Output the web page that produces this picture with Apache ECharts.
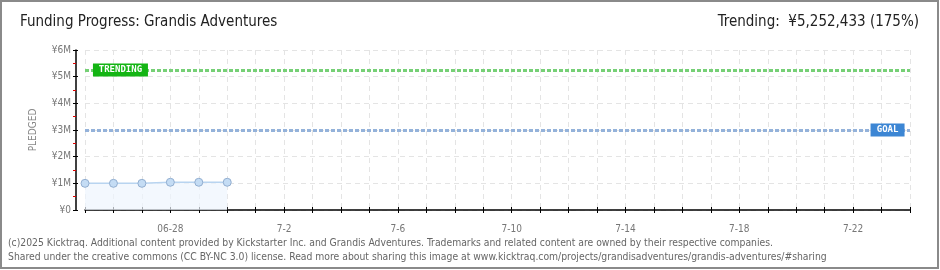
<!DOCTYPE html>
<html><head><meta charset="utf-8">
<script src="https://cdn.jsdelivr.net/npm/echarts@6/dist/echarts.min.js"></script>
<style>html,body{margin:0;padding:0;background:#fff}#c{width:940px;height:270px}</style>
</head><body><div id="c"></div>
<script>
const categories = ['06-25','06-26','06-27','06-28','06-29','06-30','7-1','7-2','7-3','7-4','7-5','7-6','7-7','7-8','7-9','7-10','7-11','7-12','7-13','7-14','7-15','7-16','7-17','7-18','7-19','7-20','7-21','7-22','7-23','7-24'];
const pledged = [1000000,1000000,1000000,1040000,1040000,1040000];
const goal = 3000000;
const trending = 5252433;
const yTicks = ['¥0','¥1M','¥2M','¥3M','¥4M','¥5M','¥6M'];
const titleText = 'Funding Progress: Grandis Adventures';
const trendText = 'Trending:  ¥5,252,433 (175%)';
const footer1 = '(c)2025 Kicktraq. Additional content provided by Kickstarter Inc. and Grandis Adventures. Trademarks and related content are owned by their respective companies.';
const footer2 = 'Shared under the creative commons (CC BY-NC 3.0) license. Read more about sharing this image at www.kicktraq.com/projects/grandisadventures/grandis-adventures/#sharing';

const F = '"Liberation Sans Narrow","DejaVu Sans Condensed",sans-serif';
const chart = echarts.init(document.getElementById('c'));
chart.setOption({
  animation:false,
  graphic:[
    {type:'rect',shape:{x:1,y:1,width:937,height:267},style:{fill:'none',stroke:'#8a8a8a',lineWidth:2},silent:true},
    {type:'text',left:20,top:15,style:{text:titleText,font:'15px '+F,fill:'#222'}},
    {type:'text',right:21,top:15,style:{text:trendText,font:'15px '+F,fill:'#222'}},
    {type:'text',left:8,top:238,style:{text:footer1,font:'10.3px '+F,fill:'#666'}},
    {type:'text',left:8,top:252,style:{text:footer2,font:'10.3px '+F,fill:'#666'}}
  ],
  grid:{left:85,right:30,top:50,bottom:60,containLabel:false},
  xAxis:[{
    type:'category',data:categories,boundaryGap:false,position:'bottom',offset:10,
    axisLine:{show:true,lineStyle:{color:'#000',width:1.5}},
    axisTick:{show:true,length:3,interval:0,lineStyle:{color:'#000'}},
    axisLabel:{interval:(i)=>(i-3)%4===0,color:'#777',fontSize:10,fontFamily:F,margin:4},
    splitLine:{show:true,interval:0,lineStyle:{color:'#e4e4e4',type:[5,4]}}
  },{
    type:'category',data:categories,boundaryGap:false,position:'bottom',offset:10,
    axisLine:{show:false},
    axisTick:{show:true,inside:true,length:3,interval:0,lineStyle:{color:'#000'}},
    axisLabel:{show:false},splitLine:{show:false}
  }],
  yAxis:[{
    type:'value',min:0,max:6000000,interval:1000000,offset:9,position:'left',
    name:'PLEDGED',nameLocation:'middle',nameGap:38,nameRotate:90,
    nameTextStyle:{color:'#888',fontSize:10,fontFamily:F},
    axisLine:{show:true,lineStyle:{color:'#000',width:1.5}},
    axisTick:{show:true,length:3,lineStyle:{color:'#000'}},
    minorTick:{show:true,splitNumber:2,length:3,lineStyle:{color:'#e00000'}},
    axisLabel:{formatter:(v)=>yTicks[Math.round(v/1000000)],color:'#777',fontSize:10,fontFamily:F,margin:5},
    splitLine:{show:true,lineStyle:{color:'#e4e4e4',type:[5,4]}}
  },{
    type:'value',min:0,max:6000000,interval:1000000,offset:9,position:'left',
    axisLine:{show:false},
    axisTick:{show:true,inside:true,length:2,lineStyle:{color:'#000'}},
    axisLabel:{show:false},splitLine:{show:false}
  }],
  series:[{
    type:'line',data:pledged,symbol:'circle',symbolSize:8,
    lineStyle:{color:'#b8d4f0',width:1.5},
    itemStyle:{color:'#c4dcf4',borderColor:'#92aed0',borderWidth:1},
    areaStyle:{color:'#eef5fd'},
    markLine:{silent:true,symbol:'none',label:{show:false},data:[
      {yAxis:trending,lineStyle:{color:'#76d076',type:[4,2],width:3}},
      {yAxis:goal,lineStyle:{color:'#94b2da',type:[4,2],width:3}}
    ]},
    markPoint:{silent:true,data:[
      {coord:['06-26',trending],symbol:'rect',symbolSize:[55,13],symbolOffset:[7,0],
       itemStyle:{color:'#14b514'},label:{show:true,formatter:'TRENDING',color:'#fff',fontSize:9,fontWeight:'bold',fontFamily:'"DejaVu Sans Mono",monospace'}},
      {coord:['7-23',goal],symbol:'rect',symbolSize:[34,13],symbolOffset:[6,0],
       itemStyle:{color:'#3c86d4'},label:{show:true,formatter:'GOAL',color:'#fff',fontSize:9,fontWeight:'bold',fontFamily:'"DejaVu Sans Mono",monospace'}}
    ]}
  }]
});
</script></body></html>
